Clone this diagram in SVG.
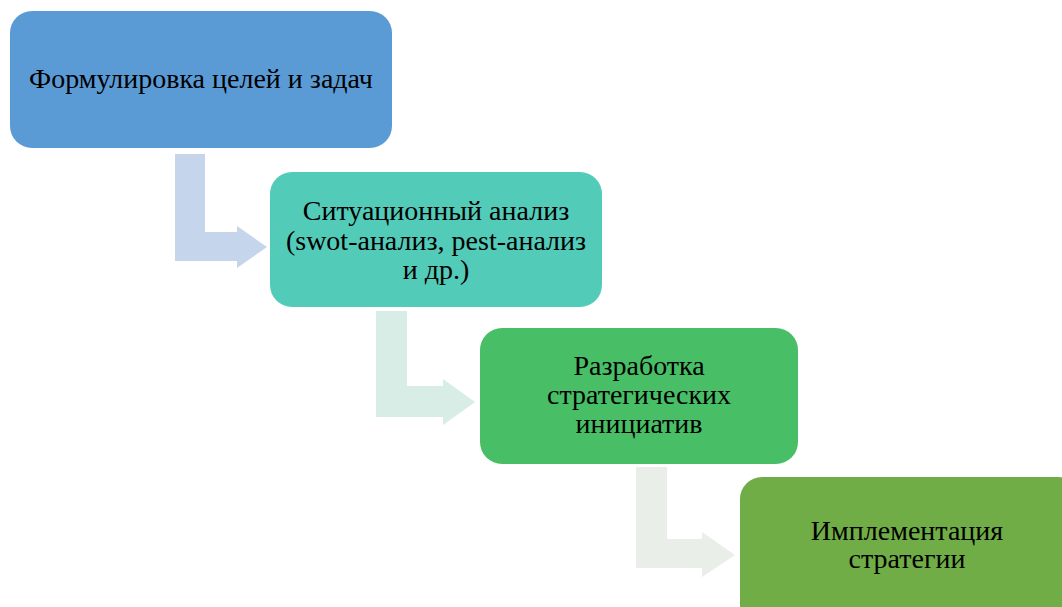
<svg xmlns="http://www.w3.org/2000/svg" width="1062" height="607" viewBox="0 0 1062 607">
<style>
text{font-family:'Liberation Serif','Times New Roman',serif;font-size:28px;fill:#000;text-anchor:middle}
</style>
<rect width="1062" height="607" fill="#fff"/>
<g id="connectors">
<path id="a1" d="M175,154 H205 V232 H237 V226 L267,247 L237,268 V261 H175 Z" fill="#C5D5EB"/>
<path id="a2" d="M376,311 H407 V386 H443 V379 L475,402 L443,425 V417 H376 Z" fill="#D7EDE6"/>
<path id="a3" d="M636,467 H667 V539 H702 V532 L735,555 L702,577 V568 H636 Z" fill="#E9EFE8"/>
</g>
<g id="n1">
<rect x="10" y="11" width="382" height="137" rx="22" fill="#5B9BD5"/>
<text x="201" y="88">Формулировка целей и задач</text>
</g>
<g id="n2">
<rect x="270" y="172" width="332" height="135" rx="22" fill="#53CBB9"/>
<text x="436" y="220">Ситуационный анализ</text>
<text x="436" y="250">(swot-анализ, pest-анализ</text>
<text x="436" y="279">и др.)</text>
</g>
<g id="n3">
<rect x="480" y="328" width="318" height="136" rx="22" fill="#48BF66"/>
<text x="639" y="375">Разработка</text>
<text x="639" y="404">стратегических</text>
<text x="639" y="433">инициатив</text>
</g>
<g id="n4">
<rect x="740" y="477" width="340" height="160" rx="22" fill="#70AD47"/>
<text x="907" y="540">Имплементация</text>
<text x="907" y="568">стратегии</text>
</g>
</svg>
